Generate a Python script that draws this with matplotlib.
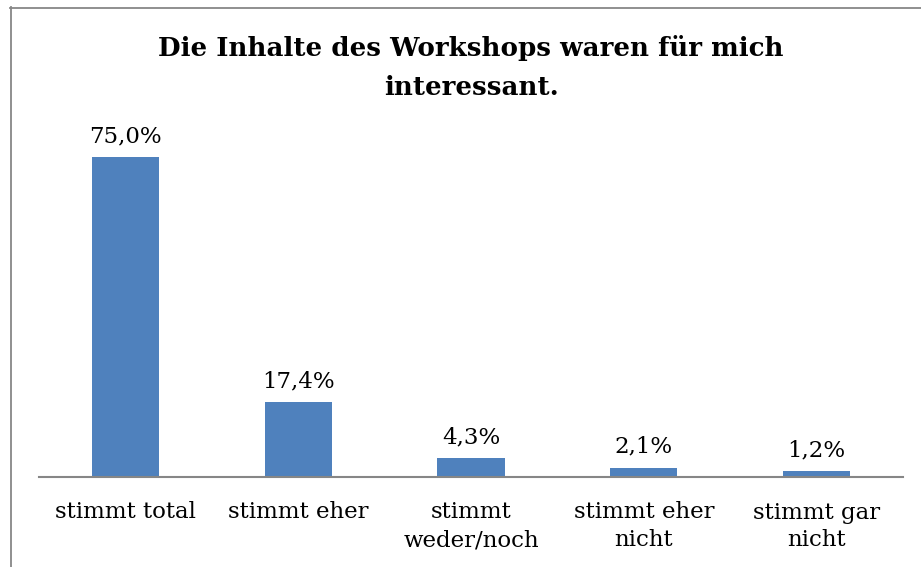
import matplotlib
matplotlib.use("Agg")
import matplotlib.pyplot as plt
from matplotlib.lines import Line2D

categories = ["stimmt total", "stimmt eher", "stimmt\nweder/noch", "stimmt eher\nnicht", "stimmt gar\nnicht"]
values = [75.0, 17.4, 4.3, 2.1, 1.2]
value_labels = ["75,0%", "17,4%", "4,3%", "2,1%", "1,2%"]
title = "Die Inhalte des Workshops waren für mich\ninteressant."

W, H = 921, 567
fig = plt.figure(figsize=(W / 100, H / 100), dpi=100)
plt.rcParams['font.family'] = ['DejaVu Serif']

# chart border (left and top visible)
bc = "#878787"
fig.add_artist(Line2D([10.5 / W, 10.5 / W], [0, 1 - 7 / H], transform=fig.transFigure, color=bc, lw=1.3))
fig.add_artist(Line2D([10 / W, 1], [1 - 7.5 / H, 1 - 7.5 / H], transform=fig.transFigure, color=bc, lw=1.3))

ax_left, ax_right = 39 / W, 903 / W
ax_bottom = (H - 476.5) / H
ax_h = 80 * 4.263 / H
ax = fig.add_axes([ax_left, ax_bottom, ax_right - ax_left, ax_h])

x = list(range(len(values)))
bars = ax.bar(x, values, width=0.39, color="#4F81BD", edgecolor="#4F81BD", linewidth=0)
ax.set_xlim(-0.5, len(values) - 0.5)
ax.set_ylim(0, 80)

for xi, v, lab in zip(x, values, value_labels):
    ax.annotate(lab, (xi, v), xytext=(0, 7), textcoords="offset points",
                ha="center", va="bottom", fontsize=16.5, color="#000000")

ax.set_xticks(x)
ax.set_xticklabels(categories, fontsize=16.5, linespacing=1.35)
ax.tick_params(axis="x", length=0, pad=18)
ax.set_yticks([])
for s in ["left", "right", "top"]:
    ax.spines[s].set_visible(False)
ax.spines["bottom"].set_color("#868686")
ax.spines["bottom"].set_linewidth(1.5)
ax.patch.set_visible(False)

fig.text(471 / W, 1 - 67.5 / H, title, ha="center", va="center", fontsize=18.8,
         fontweight="bold", linespacing=1.72)

fig.savefig("out.png", dpi=100)
